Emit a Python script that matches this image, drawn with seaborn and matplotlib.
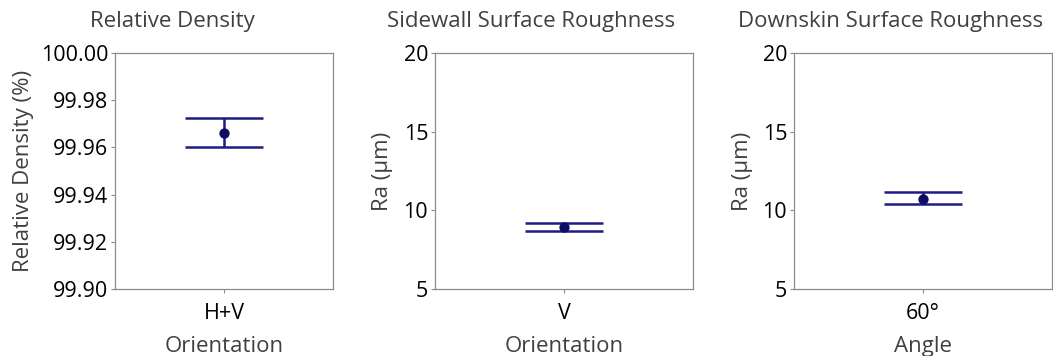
import matplotlib
matplotlib.use("Agg")
import matplotlib.pyplot as plt
import seaborn as sns
import pandas as pd

titles = ["Relative Density", "Sidewall Surface Roughness", "Downskin Surface Roughness"]
categories = ["H+V", "V", "60°"]
means = [99.966, 8.94, 10.75]
lows = [99.960, 8.69, 10.40]
highs = [99.9725, 9.19, 11.17]
xlabels = ["Orientation", "Orientation", "Angle"]
ylabels = ["Relative Density (%)", "Ra (µm)", "Ra (µm)"]
ylims = [(99.90, 100.00), (5, 20), (5, 20)]
yticks = [[99.90, 99.92, 99.94, 99.96, 99.98, 100.00], [5, 10, 15, 20], [5, 10, 15, 20]]
ytickfmt = ["{:.2f}", "{:.0f}", "{:.0f}"]

sns.set_style("white")
plt.rcParams['font.family'] = ['Open Sans', 'DejaVu Sans']

LINE = "#1c1c84"
DOT = "#0d0d63"
GREY = "#404040"

fig = plt.figure(figsize=(10.53, 3.56), dpi=100)
W, H = 1053, 356
# axes boxes in pixels: left, right, top, bottom
boxes = [(115, 333, 53, 289), (435, 693, 53, 289), (794, 1052, 53, 289)]
# title centres in pixels (centred over axes + ylabel)
title_x = [172, 531, 891]
# right edge of the rotated y label, pixels
ylabel_x = [34, 393, 753]

for i in range(3):
    l, r, t, b = boxes[i]
    ax = fig.add_axes([l / W, 1 - b / H, (r - l) / W, (b - t) / H])
    df = pd.DataFrame({"cat": [categories[i]], "mean": [means[i]]})
    ax.errorbar(df["cat"], df["mean"],
                yerr=[[means[i] - lows[i]], [highs[i] - means[i]]],
                fmt="none", ecolor=LINE, elinewidth=1.8,
                capsize=28, capthick=1.8, zorder=2)
    sns.scatterplot(data=df, x="cat", y="mean", ax=ax, color=DOT,
                    s=55, edgecolor=DOT, linewidth=0, zorder=3)
    ax.set_xlim(-1, 1)
    ax.set_ylim(*ylims[i])
    ax.set_yticks(yticks[i])
    ax.set_yticklabels([ytickfmt[i].format(v) for v in yticks[i]])
    ax.tick_params(axis="both", labelsize=15.5, colors="#000000",
                   length=3, width=0.8, pad=2, left=True, bottom=True)
    ax.tick_params(axis="x", pad=7)
    ax.tick_params(axis="both", color="#8c8c8c")
    for s in ax.spines.values():
        s.set_color("#8c8c8c")
        s.set_linewidth(0.9)
    ax.set_xlabel(xlabels[i], fontsize=16, color=GREY, labelpad=9)
    ax.set_ylabel(ylabels[i], fontsize=16, color=GREY)
    ax.yaxis.set_label_coords((ylabel_x[i] - l) / (r - l), 0.5)
    ax.text((title_x[i] - l) / (r - l), 1 + 32 / (b - t), titles[i],
            transform=ax.transAxes, ha="center", va="center",
            fontsize=16, color=GREY)

fig.savefig("out.png", dpi=100)
